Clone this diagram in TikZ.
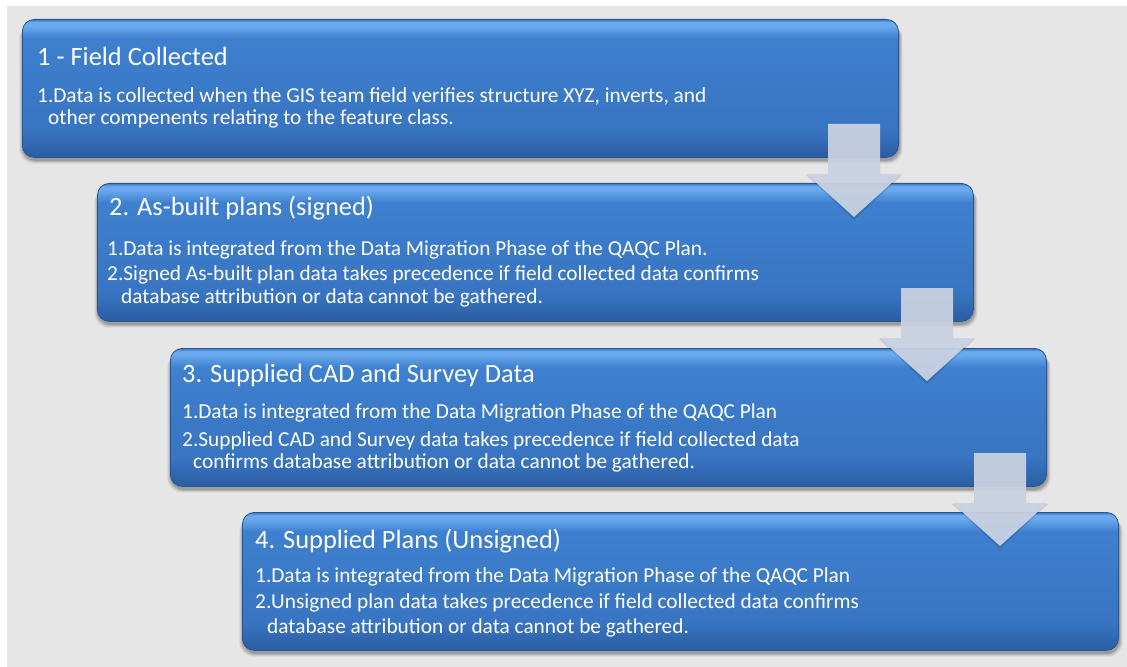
\documentclass[tikz,border=0pt]{standalone}
\usepackage{fontspec}
\setmainfont{Carlito}
\usetikzlibrary{calc}

% colours of the step boxes
\definecolor{pagegray}{HTML}{E6E6E6}
\definecolor{boxbot}{HTML}{2B5DA2}
\definecolor{boxmid}{HTML}{3874C1}
\definecolor{boxtop}{HTML}{3E80CF}
\definecolor{boxhi}{HTML}{6AAAEE}
\definecolor{boxedge}{HTML}{2A5590}
\definecolor{arrowfill}{HTML}{CBD3E3}

% vertical shading: darker base, lighter top with a thin highlight band
\pgfdeclareverticalshading{stepshade}{100bp}{%
  color(0bp)=(boxbot); color(25bp)=(boxbot); color(35bp)=(boxmid);
  color(68bp)=(boxtop); color(72.8bp)=(boxhi); color(74bp)=(boxhi);
  color(75bp)=(boxmid); color(100bp)=(boxmid)}

\tikzset{
  stepbox/.style={anchor=north west, minimum width=876bp, minimum height=138bp,
    rounded corners=12bp, shading=stepshade, draw=boxedge, line width=0.8bp,
    inner sep=0pt},
  steptitle/.style={anchor=base west, inner sep=0pt, text=white,
    font=\fontsize{26.5}{31}\selectfont},
  stepitem/.style={anchor=base west, inner sep=0pt, text=white,
    font=\fontsize{21.4}{25}\selectfont},
  flowarrow/.style={fill=arrowfill, opacity=0.93},
}

% soft shadow under a box given by its north-west corner
\newcommand\boxshadow[2]{%
  \foreach \s/\o in {6/0.06,4.5/0.08,3/0.10,1.5/0.12}{%
    \fill[black, opacity=\o, rounded corners=14bp]
      ($(#1,#2)+(-\s*0.6+1,\s*0.4+3)$) rectangle ($(#1,#2)+(876+\s*0.6+1,138+\s*0.6+3)$);}}

% block arrow: centre x of the shaft, top of the shaft
\newcommand\stepdown[3]{%
  \fill[black, opacity=0.12] ($(#2,#3)+(-26,1)$) -- ($(#2,#3)+(26,1)$) -- ($(#2,#3)+(26,51)$)
    -- ($(#2,#3)+(48,51)$) -- ($(#2,#3)+(0,96)$) -- ($(#2,#3)+(-48,51)$) -- ($(#2,#3)+(-26,51)$) -- cycle;
  \fill[flowarrow] ($(#2,#3)+(-26,0)$) coordinate (#1-a) -- ($(#2,#3)+(26,0)$) -- ($(#2,#3)+(26,50)$)
    -- ($(#2,#3)+(47.5,50)$) -- ($(#2,#3)+(0,93)$) coordinate (#1-tip) -- ($(#2,#3)+(-47.5,50)$)
    -- ($(#2,#3)+(-26,50)$) -- cycle;}

\begin{document}
\begin{tikzpicture}[x=1bp, y=-1bp]
  \useasboundingbox (0,0) rectangle (1127,667);
  \fill[white] (0,0) rectangle (1127,667);
  \fill[pagegray] (7,6) rectangle (1127,667);

  % shadows
  \boxshadow{22}{19}
  \boxshadow{97}{183}
  \boxshadow{170}{348}
  \boxshadow{242}{512}

  % step boxes
  \node[stepbox] (b1) at (22,19) {};
  \node[stepbox] (b2) at (97,183) {};
  \node[stepbox] (b3) at (170,348) {};
  \node[stepbox] (b4) at (242,512) {};

  % step 1
  \node[steptitle] (t1) at (37,66) {1 - Field Collected};
  \node[stepitem] (i11) at (37,103) {1.Data is collected when the GIS team field verifies structure XYZ, inverts, and};
  \node[stepitem] (i12) at (48,125) {other compenents relating to the feature class.};

  % step 2
  \node[steptitle] (t2) at (109,216) {2. As-built plans (signed)};
  \node[stepitem] (i21) at (107,255) {1.Data is integrated from the Data Migration Phase of the QAQC Plan.};
  \node[stepitem] (i22) at (107,280) {2.Signed As-built plan data takes precedence if field collected data confirms};
  \node[stepitem] (i23) at (121,303) {database attribution or data cannot be gathered.};

  % step 3
  \node[steptitle] (t3) at (182,382) {3. Supplied CAD and Survey Data};
  \node[stepitem] (i31) at (182,418) {1.Data is integrated from the Data Migration Phase of the QAQC Plan};
  \node[stepitem] (i32) at (182,446) {2.Supplied CAD and Survey data takes precedence if field collected data};
  \node[stepitem] (i33) at (193,468) {confirms database attribution or data cannot be gathered.};

  % step 4
  \node[steptitle] (t4) at (255,548) {4. Supplied Plans (Unsigned)};
  \node[stepitem] (i41) at (255,582) {1.Data is integrated from the Data Migration Phase of the QAQC Plan};
  \node[stepitem] (i42) at (255,608) {2.Unsigned plan data takes precedence if field collected data confirms};
  \node[stepitem] (i43) at (267,633) {database attribution or data cannot be gathered.};

  % arrows between consecutive steps
  \stepdown{a1}{854}{124}
  \stepdown{a2}{927}{288}
  \stepdown{a3}{1000}{453}
\end{tikzpicture}
\end{document}
